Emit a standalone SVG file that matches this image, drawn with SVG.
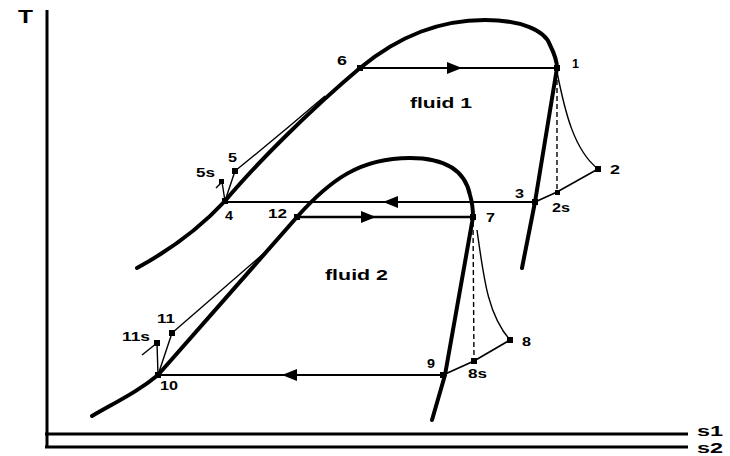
<svg xmlns="http://www.w3.org/2000/svg" width="730" height="456" viewBox="0 0 730 456">
<style>
.dome{fill:none;stroke:#000;stroke-width:4;stroke-linecap:round;stroke-linejoin:round}
.proc{fill:none;stroke:#000;stroke-width:2}
.thin{fill:none;stroke:#000;stroke-width:1.4}
.dash{fill:none;stroke:#000;stroke-width:1.4;stroke-dasharray:5 3}
.axis{fill:none;stroke:#000;stroke-width:3}
.lbl{font-family:"Liberation Sans",Arial,sans-serif;font-weight:bold;font-size:12px;fill:#000}
.big{font-family:"Liberation Sans",Arial,sans-serif;font-weight:bold;font-size:15px;fill:#000}
.ax{font-family:"Liberation Sans",Arial,sans-serif;font-weight:bold;font-size:18px;fill:#000}
.axs{font-family:"Liberation Sans",Arial,sans-serif;font-weight:bold;font-size:15px;fill:#000}
.pt{fill:#000}
.arr{fill:#000}
</style>
<rect width="730" height="456" fill="#fff"/>
<g id="axes">
<line class="axis" x1="47" y1="10" x2="47" y2="448"/>
<line class="axis" x1="45" y1="434" x2="688" y2="434"/>
<line class="axis" x1="45" y1="447" x2="688" y2="447"/>
<text class="ax" x="18" y="23" textLength="15" lengthAdjust="spacingAndGlyphs">T</text>
<text class="axs" x="697" y="436" textLength="26" lengthAdjust="spacingAndGlyphs">s1</text>
<text class="axs" x="697" y="453" textLength="26" lengthAdjust="spacingAndGlyphs">s2</text>
</g>
<g id="connectors">
<path id="dome1" class="dome" d="M137,268 C170,250 200,228 225,201 C255,165 310,110 360,68 C400,35 440,20 485,20 C520,20 545,30 550,45 C555,55 557,62 557,68 L535,202 L522,268"/>
<path id="dome2" class="dome" d="M92,416 C120,400 140,390 158,375 L297,217 C330,180 360,158 410,158 C445,158 465,170 470,195 C473,205 473,212 473,217 L445,375 L432,420"/>
<line class="proc" x1="360" y1="68" x2="557" y2="68"/>
<polygon class="arr" points="462,68 447,62 447,74"/>
<line class="proc" x1="225" y1="202" x2="535" y2="202"/>
<polygon class="arr" points="383,202 398,196 398,208"/>
<line class="proc" style="stroke-width:2.6" x1="297" y1="217" x2="473" y2="217"/>
<polygon class="arr" points="376,217 361,211 361,223"/>
<line class="proc" x1="158" y1="375" x2="443" y2="375"/>
<polygon class="arr" points="282,375 297,369 297,381"/>
<path class="thin" d="M557,72 C565,112 574,150 598,169"/>
<polyline class="proc" style="stroke-width:1.6" points="535,202 557,192 598,169"/>
<line class="dash" x1="557" y1="72" x2="557" y2="192"/>
<path class="thin" d="M477,230 C484,280 488,315 510,340"/>
<polyline class="proc" style="stroke-width:1.8" points="443,375 474,361 510,340"/>
<line class="dash" x1="473" y1="222" x2="474" y2="361"/>
<path class="thin" d="M235,171 Q282,133 325,96"/>
<line class="thin" x1="225" y1="201" x2="235" y2="171"/>
<line class="thin" x1="225" y1="201" x2="222" y2="182"/>
<line class="thin" x1="216" y1="188" x2="222" y2="182"/>
<line class="thin" x1="172" y1="333" x2="270" y2="248"/>
<line class="thin" x1="158" y1="375" x2="172" y2="333"/>
<line class="thin" x1="158" y1="375" x2="157" y2="343"/>
<line class="thin" x1="142" y1="355" x2="157" y2="343"/>
</g>
<g id="p6"><rect class="pt" x="357" y="65" width="6" height="6"/><text class="lbl" x="337" y="65" textLength="10" lengthAdjust="spacingAndGlyphs">6</text></g>
<g id="p1"><rect class="pt" x="554" y="65" width="6" height="6"/><text class="lbl" x="572" y="68" textLength="7" lengthAdjust="spacingAndGlyphs">1</text></g>
<g id="p2"><rect class="pt" x="595" y="166" width="6" height="6"/><text class="lbl" x="610" y="174" textLength="10" lengthAdjust="spacingAndGlyphs">2</text></g>
<g id="p2s"><rect class="pt" x="555" y="190" width="5" height="5"/><text class="lbl" x="552" y="212" textLength="18" lengthAdjust="spacingAndGlyphs">2s</text></g>
<g id="p3"><rect class="pt" x="532" y="199" width="6" height="6"/><text class="lbl" x="515" y="198" textLength="9" lengthAdjust="spacingAndGlyphs">3</text></g>
<g id="p4"><rect class="pt" x="222" y="198" width="6" height="6"/><text class="lbl" x="225" y="220" textLength="8" lengthAdjust="spacingAndGlyphs">4</text></g>
<g id="p5"><rect class="pt" x="232" y="168" width="6" height="6"/><text class="lbl" x="228" y="162" textLength="9" lengthAdjust="spacingAndGlyphs">5</text></g>
<g id="p5s"><rect class="pt" x="219" y="179" width="5" height="5"/><text class="lbl" x="196" y="177" textLength="19" lengthAdjust="spacingAndGlyphs">5s</text></g>
<g id="p12"><rect class="pt" x="294" y="214" width="6" height="6"/><text class="lbl" x="268" y="218" textLength="19" lengthAdjust="spacingAndGlyphs">12</text></g>
<g id="p7"><rect class="pt" x="470" y="214" width="6" height="6"/><text class="lbl" x="486" y="222" textLength="9" lengthAdjust="spacingAndGlyphs">7</text></g>
<g id="p8"><rect class="pt" x="507" y="337" width="6" height="6"/><text class="lbl" x="522" y="346" textLength="9" lengthAdjust="spacingAndGlyphs">8</text></g>
<g id="p8s"><rect class="pt" x="471" y="358" width="6" height="6"/><text class="lbl" x="468" y="378" textLength="19" lengthAdjust="spacingAndGlyphs">8s</text></g>
<g id="p9"><rect class="pt" x="440" y="372" width="6" height="6"/><text class="lbl" x="427" y="368" textLength="8" lengthAdjust="spacingAndGlyphs">9</text></g>
<g id="p10"><rect class="pt" x="155" y="372" width="6" height="6"/><text class="lbl" x="160" y="390" textLength="18" lengthAdjust="spacingAndGlyphs">10</text></g>
<g id="p11"><rect class="pt" x="169" y="330" width="6" height="6"/><text class="lbl" x="157" y="323" textLength="18" lengthAdjust="spacingAndGlyphs">11</text></g>
<g id="p11s"><rect class="pt" x="154" y="340" width="6" height="6"/><text class="lbl" x="122" y="341" textLength="28" lengthAdjust="spacingAndGlyphs">11s</text></g>
<g id="fluid1"><text class="big" x="410" y="108" textLength="62" lengthAdjust="spacingAndGlyphs">fluid 1</text></g>
<g id="fluid2"><text class="big" x="325" y="280" textLength="63" lengthAdjust="spacingAndGlyphs">fluid 2</text></g>
</svg>
